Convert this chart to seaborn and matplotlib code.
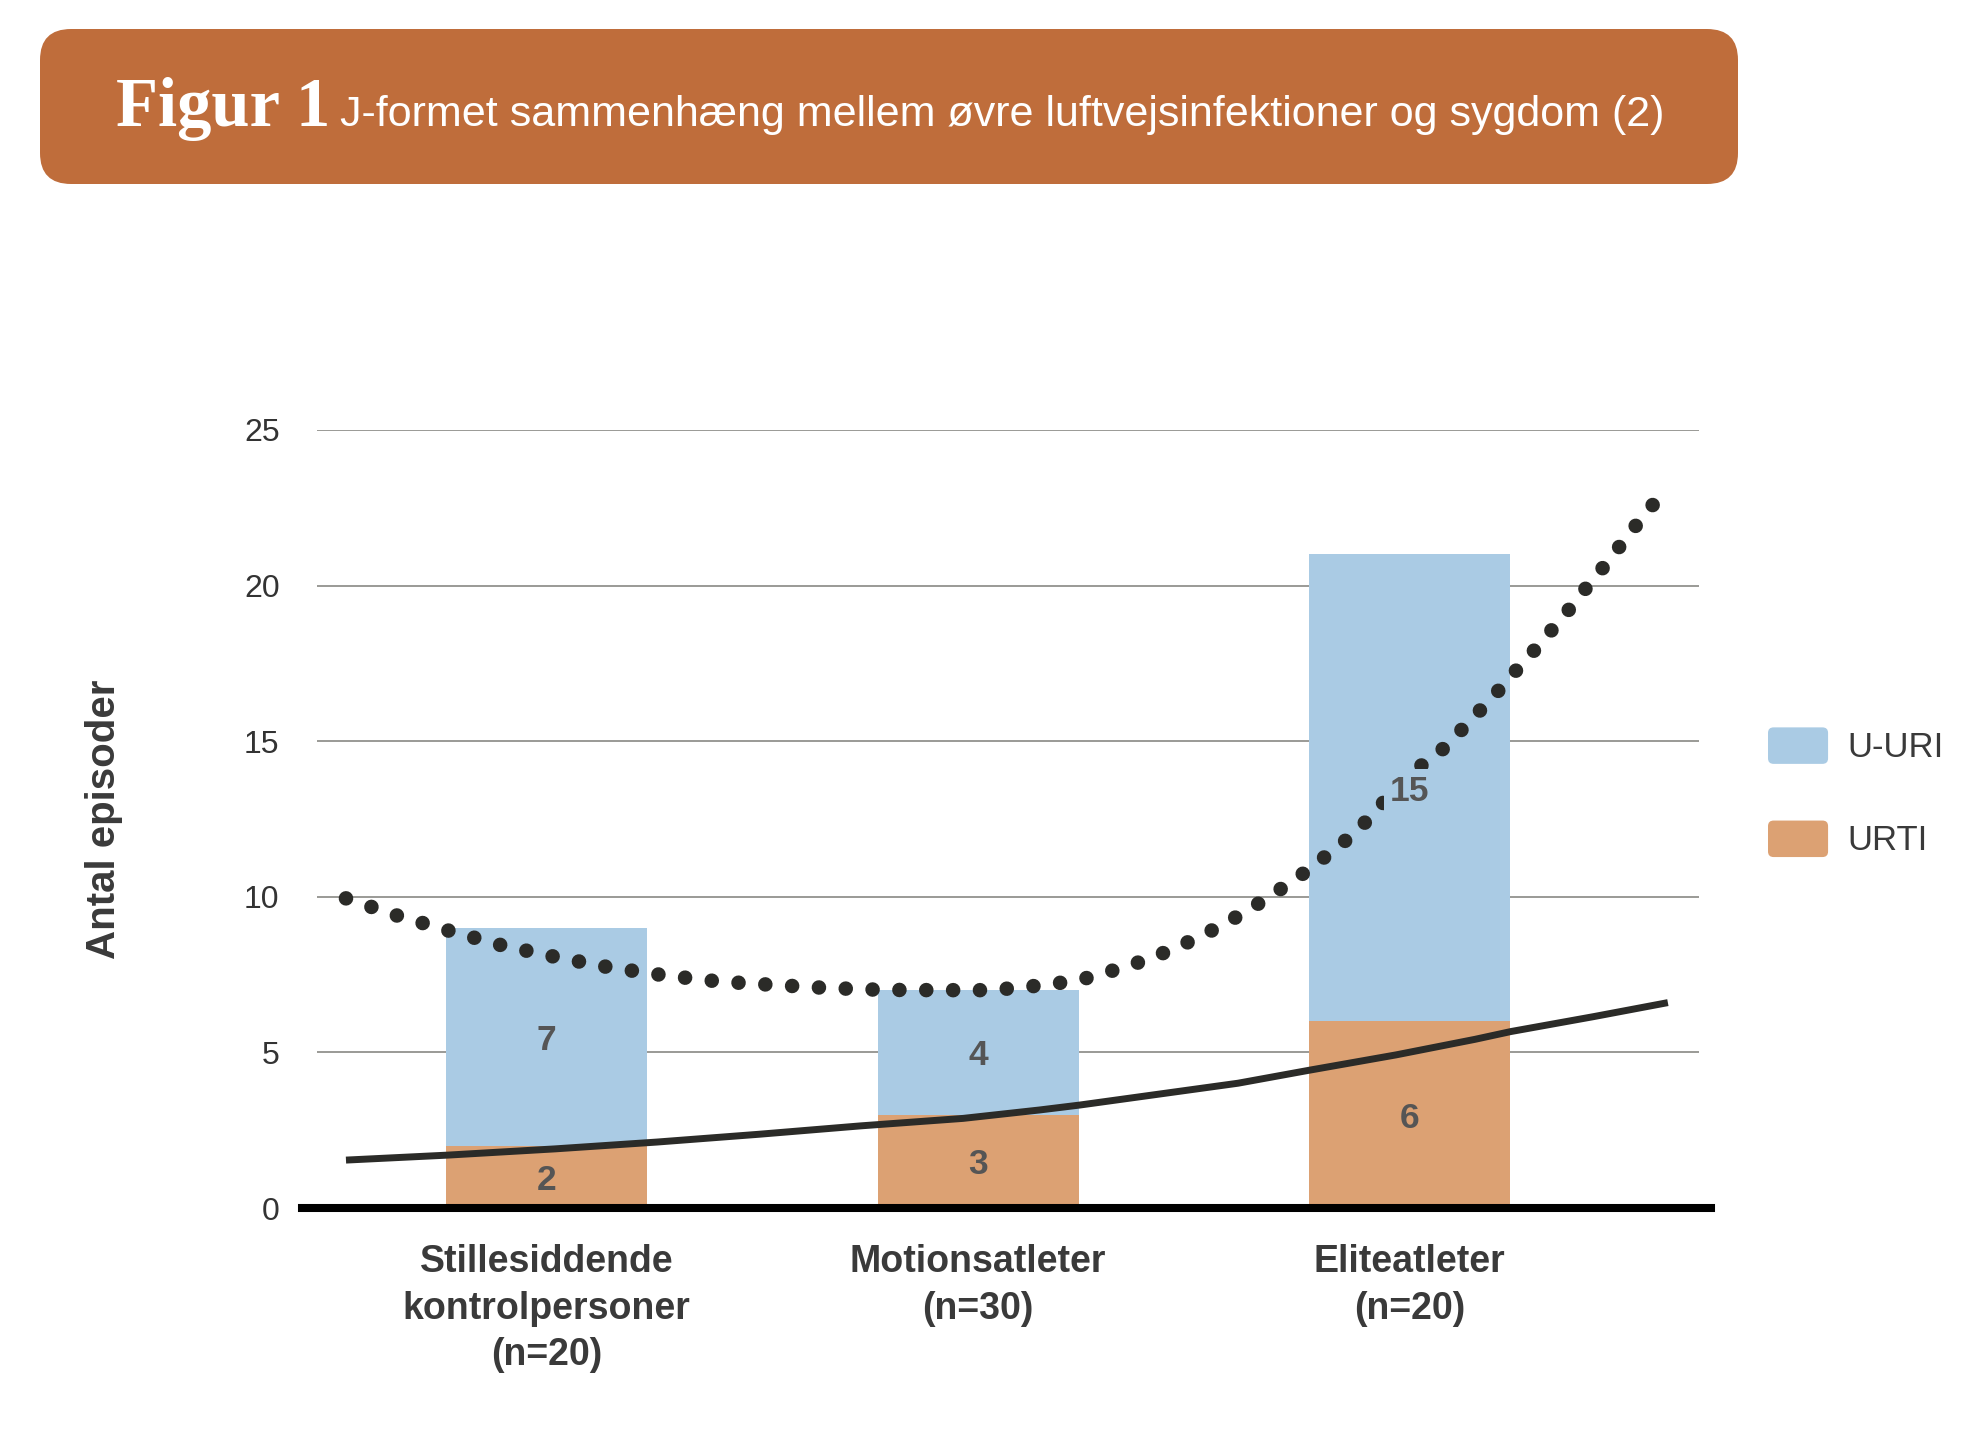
import matplotlib
matplotlib.use("Agg")
import matplotlib.pyplot as plt
from matplotlib.patches import FancyBboxPatch, Patch
from matplotlib.legend_handler import HandlerPatch
from matplotlib.transforms import IdentityTransform
import seaborn as sns

# --- data ---
categories = ["Stillesiddende\nkontrolpersoner\n(n=20)", "Motionsatleter\n(n=30)", "Eliteatleter\n(n=20)"]
urti = [2, 3, 6]
u_uri = [7, 4, 15]

# J-shaped (dotted) trend line, read point by point
j_x = [-0.465, -0.345, -0.224, -0.101, 0.023, 0.146, 0.271, 0.398, 0.524, 0.651, 0.777,
       0.904, 1.031, 1.157, 1.236, 1.342, 1.402, 1.461, 1.518, 1.574, 1.629, 1.682, 1.735,
       1.786, 1.836, 1.884, 1.923, 2.023, 2.068, 2.112, 2.156, 2.200, 2.241, 2.284, 2.325,
       2.366, 2.406, 2.445, 2.484, 2.524, 2.564]
j_y = [9.95, 9.39, 8.90, 8.43, 8.06, 7.73, 7.48, 7.28, 7.17, 7.07, 7.01,
       7.00, 7.00, 7.17, 7.33, 7.75, 8.04, 8.38, 8.75, 9.16, 9.60, 10.08, 10.56,
       11.10, 11.63, 12.20, 12.81, 14.18, 14.63, 15.25, 15.89, 16.54, 17.19, 17.85, 18.51,
       19.18, 19.88, 20.53, 21.22, 21.93, 22.61]

# URTI (solid) trend line
s_x = [-0.465, -0.229, 0.019, 0.256, 0.492, 0.728, 0.965, 1.142, 1.236, 1.419, 1.602,
       1.768, 1.968, 2.151, 2.234, 2.426, 2.598]
s_y = [1.54, 1.70, 1.90, 2.12, 2.37, 2.64, 2.88, 3.15, 3.31, 3.66, 4.01,
       4.43, 4.92, 5.42, 5.67, 6.15, 6.60]

totals = [a + b for a, b in zip(urti, u_uri)]

BLUE = "#AACBE4"
ORANGE = "#DCA173"
BANNER = "#BF6D3B"
DARK = "#2B2B28"
TXT = "#3A3A3A"

plt.rcParams["font.family"] = ["Liberation Sans", "DejaVu Sans"]

fig = plt.figure(figsize=(19.73, 14.40), dpi=100)
ax = fig.add_axes([0.1607, 0.1611, 0.7004, 0.5403])

sns.barplot(x=categories, y=totals, color=BLUE, saturation=1, width=0.466,
            linewidth=0, ax=ax, zorder=2)
sns.barplot(x=categories, y=urti, color=ORANGE, saturation=1, width=0.466,
            linewidth=0, ax=ax, zorder=2)

ax.plot(s_x, s_y, color=DARK, lw=5, solid_capstyle="butt", zorder=3)
# dots: near-zero dashes with round caps
ax.plot(j_x, j_y, color=DARK, lw=10.5, linestyle=(0, (0.001, 1.84)),
        dash_capstyle="round", zorder=3)

# segment labels
for i, (lo, hi) in enumerate(zip(urti, u_uri)):
    ax.text(i, lo / 2, str(lo), ha="center", va="center_baseline", fontsize=25.5,
            fontweight="bold", color="#555555", zorder=5,
            bbox=dict(fc=ORANGE, ec="none", pad=1))
    ax.text(i, lo + hi / 2, str(hi), ha="center", va="center_baseline", fontsize=25.5,
            fontweight="bold", color="#555555", zorder=5,
            bbox=dict(fc=BLUE, ec="none", pad=4))

ax.set_xlim(-0.532, 2.670)
ax.set_ylim(0, 25)
ax.set_yticks([0, 5, 10, 15, 20, 25])
ax.yaxis.grid(True, color="#9A9A96", lw=1.4)
ax.set_axisbelow(True)
for sp in ax.spines.values():
    sp.set_visible(False)
ax.axhline(0, xmin=-0.011, xmax=1.009, color="black", lw=5.8, clip_on=False, zorder=4)

ax.tick_params(axis="both", length=0)
ax.tick_params(axis="y", pad=27, labelsize=23, labelcolor="#333333")
ax.tick_params(axis="x", pad=26, labelsize=27, labelcolor=TXT)
for lab in ax.get_xticklabels():
    lab.set_fontweight("bold")
    lab.set_linespacing(1.38)
ax.set_xlabel("")
ax.set_ylabel("Antal episoder", fontsize=29, fontweight="bold", color=TXT, va="center")
ax.yaxis.set_label_coords(-0.1545, 0.5)


def rounded(legend, orig_handle, xdescent, ydescent, width, height, fontsize):
    return FancyBboxPatch((-xdescent, -ydescent), width, height,
                          boxstyle="round,pad=0,rounding_size=4")


handles = [Patch(facecolor=BLUE, label="U-URI"), Patch(facecolor=ORANGE, label="URTI")]
fig.legend(handles=handles, loc="center left", bbox_to_anchor=(0.8961, 0.4497),
           frameon=False, fontsize=25, labelcolor=TXT, handlelength=1.73,
           handleheight=1.24, labelspacing=1.62, handletextpad=0.55,
           borderpad=0, borderaxespad=0,
           handler_map={Patch: HandlerPatch(patch_func=rounded)})

# title banner
banner = FancyBboxPatch((40, 1440 - 184), 1698, 155, boxstyle="round,pad=0,rounding_size=31",
                        transform=IdentityTransform(), fc=BANNER, ec="none", zorder=0)
fig.patches.append(banner)
fig.text(116 / 1973, 1 - 126 / 1440, "Figur 1", family="Liberation Serif", fontweight="bold",
         fontsize=49.5, color="white", va="baseline", ha="left")
fig.text(340 / 1973, 1 - 126 / 1440,
         "J-formet sammenhæng mellem øvre luftvejsinfektioner og sygdom (2)",
         fontsize=31, color="white", va="baseline", ha="left")

fig.savefig("out.png", dpi=100)
